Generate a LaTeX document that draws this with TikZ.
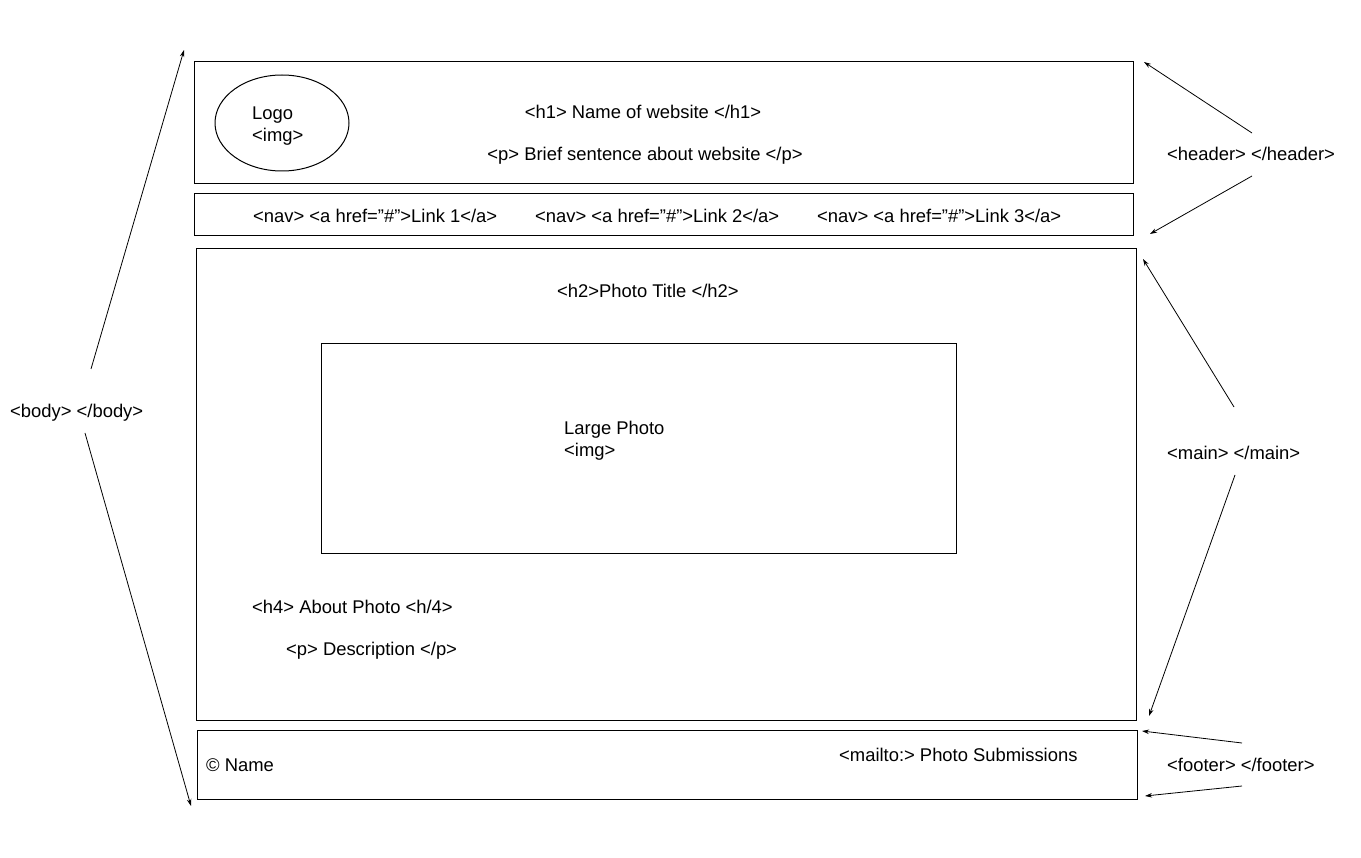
\documentclass[tikz,border=0pt]{standalone}
\usepackage{fontspec}
\setmainfont{Liberation Sans}
\usetikzlibrary{arrows.meta}
\begin{document}
\begin{tikzpicture}[x=1pt,y=-1pt,
  box/.style={draw=black,line width=1pt},
  lbl/.style={anchor=base west,inner sep=0pt,yshift=-1.5pt,font=\fontsize{18.4}{22}\selectfont},
  arr/.style={draw=black,line width=0.8pt,-{Stealth[length=7pt,width=4.5pt]}}]
\useasboundingbox[fill=white] (0,0) rectangle (1361,858);
% boxes
\draw[box] (194,62) rectangle (1133,184);
\draw[box] (194,194) rectangle (1133,236);
\draw[box] (196,249) rectangle (1136,720);
\draw[box] (321,344) rectangle (956,553);
\draw[box] (197,730) rectangle (1137,799);
\draw[box] (282,123) ellipse [x radius=67,y radius=48];
% texts
\node[lbl] (logo) at (252,118) {Logo};
\node[lbl] (logoimg) at (252,140) {<img>};
\node[lbl,anchor=base] (h1) at (643,117) {<h1> Name of website </h1>};
\node[lbl,anchor=base] (p1) at (645,159) {<p> Brief sentence about website </p>};
\node[lbl] (nav1) at (253,221) {<nav> <a href=”\#”>Link 1</a>};
\node[lbl] (nav2) at (535,221) {<nav> <a href=”\#”>Link 2</a>};
\node[lbl] (nav3) at (817,221) {<nav> <a href=”\#”>Link 3</a>};
\node[lbl] (h2) at (557,296) {<h2>Photo Title </h2>};
\node[lbl] (lp) at (564,433) {Large Photo};
\node[lbl] (lpimg) at (564,455) {<img>};
\node[lbl] (h4) at (252,612) {<h4> About Photo <h/4>};
\node[lbl] (desc) at (286,654) {<p> Description </p>};
\node[lbl] (copy) at (206,770) {© Name};
\node[lbl] (mail) at (839,760) {<mailto:> Photo Submissions};
\node[lbl] (header) at (1167,159) {<header> </header>};
\node[lbl] (main) at (1167,458) {<main> </main>};
\node[lbl] (footer) at (1167,770) {<footer> </footer>};
\node[lbl] (body) at (10,416) {<body> </body>};
% arrow endpoints
\coordinate (bu0) at (91,369); \coordinate (bu1) at (184,50);
\coordinate (bd0) at (85,433); \coordinate (bd1) at (191,806);
\coordinate (hu0) at (1252,133); \coordinate (hu1) at (1144,62);
\coordinate (hd0) at (1252,176); \coordinate (hd1) at (1150,234);
\coordinate (mu0) at (1234,407); \coordinate (mu1) at (1143,259);
\coordinate (md0) at (1235,475); \coordinate (md1) at (1149,716);
\coordinate (fu0) at (1242,743); \coordinate (fu1) at (1142,731);
\coordinate (fd0) at (1242,786); \coordinate (fd1) at (1145,796);
\draw[arr] (bu0) -- (bu1);
\draw[arr] (bd0) -- (bd1);
\draw[arr] (hu0) -- (hu1);
\draw[arr] (hd0) -- (hd1);
\draw[arr] (mu0) -- (mu1);
\draw[arr] (md0) -- (md1);
\draw[arr] (fu0) -- (fu1);
\draw[arr] (fd0) -- (fd1);
\end{tikzpicture}
\end{document}
